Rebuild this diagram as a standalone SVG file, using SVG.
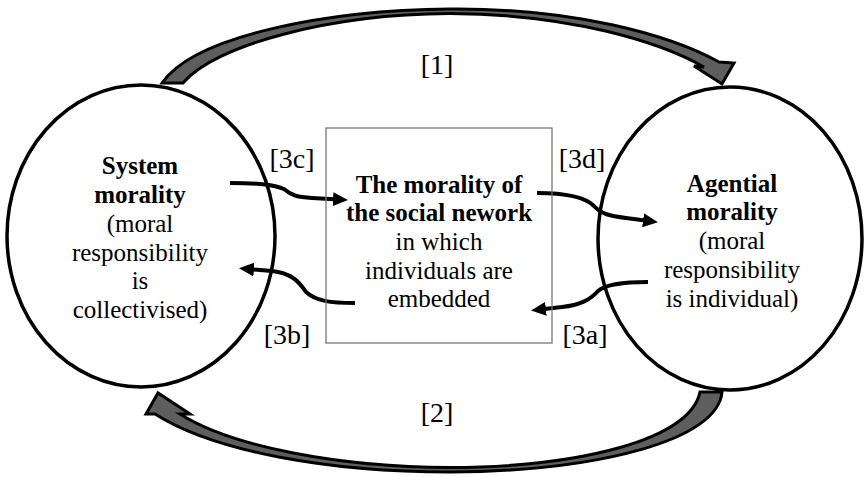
<svg xmlns="http://www.w3.org/2000/svg" width="865" height="477" viewBox="0 0 865 477">
<style>
text{font-family:"Liberation Serif","Times New Roman",serif;fill:#000;}
.t{font-size:25px;text-anchor:middle;}
.b{font-weight:bold;}
.lab{font-size:28px;text-anchor:middle;}
.ell{fill:none;stroke:#000;stroke-width:3.5;}
.big{fill:#5e5e5e;stroke:#000;stroke-width:3;stroke-linejoin:miter;}
.sm{fill:none;stroke:#000;stroke-width:4;}
</style>
<defs>
<marker id="ah" viewBox="0 0 15 14" refX="6" refY="7" markerWidth="15" markerHeight="14" markerUnits="userSpaceOnUse" orient="auto">
<path d="M0,0 L15,7 L0,14 Z" fill="#000"/>
</marker>
</defs>
<rect width="865" height="477" fill="#fff"/>
<g id="connectors">
<path id="arrow1" class="big" d="M162,83 C195,35 330,10 450,9 C575,8 670,35 719,62 L734,63 L722,84 L694,66 L704,67 C660,42 570,14 450,13.5 C330,14 215,45 183,83 Z"/>
<path id="arrow2" class="big" d="M722,392 C718,440 600,471 450,472 C330,472 215,452 155,414 L146,414 L158,393 L190,414 L180,414 C232,447 340,467 450,467.5 C580,467 690,440 700,392 Z"/>
<path id="a3c" class="sm" marker-end="url(#ah)" d="M230,183 C262,183 274,185 284,189 C292,196 298,197 312,198 L339,199.5"/>
<path id="a3b" class="sm" marker-end="url(#ah)" d="M355,303 C330,303 316,301 306,292 C298,280 290,273 272,271 L248,269"/>
<path id="a3d" class="sm" marker-end="url(#ah)" d="M537,193 C566,193 585,197 594,206 C601,214 610,216 626,218 L649,221"/>
<path id="a3a" class="sm" marker-end="url(#ah)" d="M648,282 C625,282 606,284 598,291 C590,300 580,305 562,307 L540,309.5"/>
<text class="lab" x="437" y="74">[1]</text>
<text class="lab" x="437" y="422">[2]</text>
<text class="lab" x="292" y="168">[3c]</text>
<text class="lab" x="287" y="344">[3b]</text>
<text class="lab" x="582" y="168">[3d]</text>
<text class="lab" x="585" y="344">[3a]</text>
</g>
<g id="system">
<ellipse class="ell" cx="141" cy="236" rx="134" ry="151"/>
<text class="t b" x="140" y="174">System</text>
<text class="t b" x="140" y="203">morality</text>
<text class="t" x="140" y="232">(moral</text>
<text class="t" x="140" y="261">responsibility</text>
<text class="t" x="140" y="289">is</text>
<text class="t" x="140" y="318">collectivised)</text>
</g>
<g id="network">
<rect x="326" y="128" width="226" height="215" fill="none" stroke="#777" stroke-width="1.3"/>
<text class="t b" x="439" y="193">The morality of</text>
<text class="t b" x="439" y="221">the social nework</text>
<text class="t" x="439" y="250">in which</text>
<text class="t" x="439" y="279">individuals are</text>
<text class="t" x="439" y="307">embedded</text>
</g>
<g id="agential">
<ellipse class="ell" cx="730" cy="238.5" rx="132" ry="151.5"/>
<text class="t b" x="732" y="192">Agential</text>
<text class="t b" x="732" y="220">morality</text>
<text class="t" x="732" y="249">(moral</text>
<text class="t" x="732" y="278">responsibility</text>
<text class="t" x="732" y="307">is individual)</text>
</g>
</svg>
